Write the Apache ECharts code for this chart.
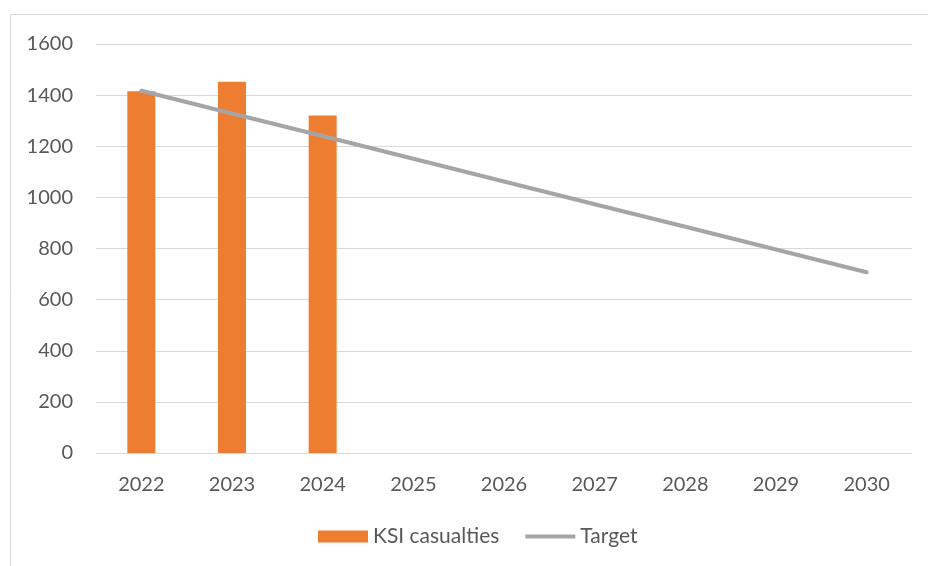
<!DOCTYPE html>
<html>
<head>
<meta charset="utf-8">
<script src="https://cdn.jsdelivr.net/npm/echarts@6/dist/echarts.min.js"></script>
<style>html,body{margin:0;padding:0;background:#fff;}#c{width:928px;height:566px;}</style>
</head>
<body>
<div id="c"></div>
<script>
var years = ['2022','2023','2024','2025','2026','2027','2028','2029','2030'];
var ksiCasualties = [1415, 1452, 1320, null, null, null, null, null, null];
var target = [1417, 1328, 1240, 1151, 1062, 973, 885, 796, 707];
var yTicks = [0, 200, 400, 600, 800, 1000, 1200, 1400, 1600];

var chart = echarts.init(document.getElementById('c'));
var font = 'Lato, "Open Sans", sans-serif';
chart.setOption({
  animation: false,
  backgroundColor: '#ffffff',
  graphic: [{
    type: 'rect', silent: true,
    shape: { x: 10.5, y: 14.5, width: 940, height: 600 },
    style: { fill: 'none', stroke: '#d9d9d9', lineWidth: 1 }
  }],
  grid: { left: 96, right: 16, top: 44, bottom: 113, containLabel: false },
  legend: {
    bottom: 14, left: 313,
    itemWidth: 50, itemHeight: 12, itemGap: 26,
    textStyle: { fontFamily: font, fontSize: 21, color: '#595959' },
    data: [
      { name: 'KSI casualties', icon: 'rect' },
      { name: 'Target', icon: 'path://M0,0 L53,0 L53,4 L0,4 Z' }
    ]
  },
  xAxis: {
    type: 'category', data: years,
    axisLine: { show: true, lineStyle: { color: '#d9d9d9', width: 1 } },
    axisTick: { show: false },
    axisLabel: { fontFamily: font, fontSize: 20, color: '#595959', margin: 22 }
  },
  yAxis: {
    type: 'value', min: yTicks[0], max: yTicks[yTicks.length - 1], interval: 200,
    axisLine: { show: false }, axisTick: { show: false },
    splitLine: { lineStyle: { color: '#d9d9d9', width: 1 } },
    axisLabel: { fontFamily: font, fontSize: 20, color: '#595959', margin: 23,
      formatter: function (v) { return String(v); } }
  },
  series: [
    {
      name: 'KSI casualties', type: 'bar', data: ksiCasualties,
      barWidth: 28, itemStyle: { color: '#ed7d31' }
    },
    {
      name: 'Target', type: 'line', data: target,
      symbol: 'none', showSymbol: false,
      lineStyle: { color: '#a5a5a5', width: 4, cap: 'round' },
      itemStyle: { color: '#a5a5a5' }
    }
  ]
});
</script>
</body>
</html>
